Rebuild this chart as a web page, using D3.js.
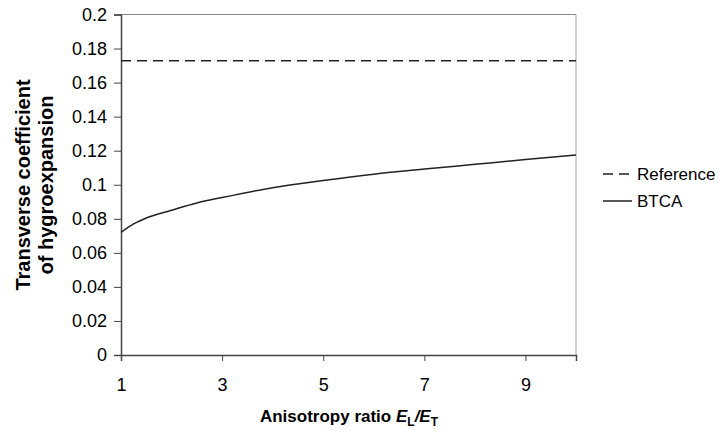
<!DOCTYPE html>
<meta charset="utf-8">
<script src="https://d3js.org/d3.v7.min.js"></script>
<style>
body { margin: 0; background: #fff; }
svg { font-family: "Liberation Sans", Arial, sans-serif; }
</style>
<body>
</body>
<script>

// values
var ratio = [1, 1.25, 1.5, 2, 2.5, 3, 4, 5, 6, 7, 8, 9, 10];
var btca = [0.0720, 0.0770, 0.0805, 0.0850, 0.0893, 0.0925, 0.0983, 0.1025, 0.1062, 0.1092, 0.1120, 0.1148, 0.1175];
var reference = 0.1728;
var xTicks = [1, 3, 5, 7, 9];
var yTicks = [0, 0.02, 0.04, 0.06, 0.08, 0.1, 0.12, 0.14, 0.16, 0.18, 0.2];

var width = 723, height = 432;
var mLeft = 121, mRight = 576, mTop = 14.5, mBottom = 355;

var svg = d3.select("body").append("svg")
  .attr("width", width)
  .attr("height", height);

var x = d3.scaleLinear().domain([1, 10]).range([mLeft, mRight]);
var y = d3.scaleLinear().domain([0, 0.2]).range([mBottom, mTop]);

// frame (top and right are lighter)
svg.append("line")
  .attr("x1", mLeft).attr("x2", mRight).attr("y1", mTop).attr("y2", mTop)
  .attr("stroke", "#888").attr("stroke-width", 1);
svg.append("line")
  .attr("x1", mRight).attr("x2", mRight).attr("y1", mTop).attr("y2", mBottom)
  .attr("stroke", "#aaa").attr("stroke-width", 1);

var xAxis = svg.append("g")
  .attr("transform", "translate(0," + mBottom + ")")
  .call(d3.axisBottom(x).tickValues(xTicks).tickSize(6).tickPadding(17).tickFormat(d3.format("d")));
xAxis.attr("font-size", 18).attr("font-family", "Liberation Sans, Arial, sans-serif");
xAxis.select(".domain").attr("stroke", "#444").attr("stroke-width", 1.5);
xAxis.selectAll(".tick line").attr("stroke", "#444");
xAxis.selectAll(".tick text").attr("fill", "#000");

var yAxis = svg.append("g")
  .attr("transform", "translate(" + mLeft + ",0)")
  .call(d3.axisLeft(y).tickValues(yTicks).tickSize(7).tickPadding(7).tickFormat(function(d) { return +d.toFixed(2); }));
yAxis.attr("font-size", 18).attr("font-family", "Liberation Sans, Arial, sans-serif");
yAxis.select(".domain").attr("stroke", "#444").attr("stroke-width", 1.5);
yAxis.selectAll(".tick line").attr("stroke", "#444");
yAxis.selectAll(".tick text").attr("fill", "#000");

// reference dashed line
svg.append("line")
  .attr("x1", x(1)).attr("x2", x(10))
  .attr("y1", y(reference)).attr("y2", y(reference))
  .attr("stroke", "#222").attr("stroke-width", 1.6)
  .attr("stroke-dasharray", "10,6");

// BTCA curve
var line = d3.line()
  .x(function(d, i) { return x(ratio[i]); })
  .y(function(d) { return y(d); })
  .curve(d3.curveMonotoneX);

svg.append("path")
  .datum(btca)
  .attr("d", line)
  .attr("fill", "none")
  .attr("stroke", "#222")
  .attr("stroke-width", 1.5);

// legend
var legend = svg.append("g").attr("font-size", 17);
legend.append("line")
  .attr("x1", 603).attr("x2", 632).attr("y1", 174).attr("y2", 174)
  .attr("stroke", "#222").attr("stroke-width", 1.6).attr("stroke-dasharray", "10,6");
legend.append("text").attr("x", 637).attr("y", 180).text("Reference");
legend.append("line")
  .attr("x1", 603).attr("x2", 632).attr("y1", 201).attr("y2", 201)
  .attr("stroke", "#222").attr("stroke-width", 1.5);
legend.append("text").attr("x", 637).attr("y", 207).text("BTCA");

// axis titles
var xt = svg.append("text")
  .attr("x", 349).attr("y", 422)
  .attr("text-anchor", "middle")
  .attr("font-size", 17).attr("font-weight", "bold");
xt.append("tspan").text("Anisotropy ratio ");
xt.append("tspan").attr("font-style", "italic").text("E");
xt.append("tspan").attr("font-size", 12).attr("dy", 4).text("L");
xt.append("tspan").attr("dy", -4).attr("font-style", "italic").text("/E");
xt.append("tspan").attr("font-size", 12).attr("dy", 4).text("T");

var yt = svg.append("text")
  .attr("transform", "translate(0,185) rotate(-90)")
  .attr("text-anchor", "middle")
  .attr("font-size", 20).attr("font-weight", "bold");
yt.append("tspan").attr("x", 0).attr("y", 30).text("Transverse coefficient");
yt.append("tspan").attr("x", 0).attr("y", 53).text("of hygroexpansion");

</script>
